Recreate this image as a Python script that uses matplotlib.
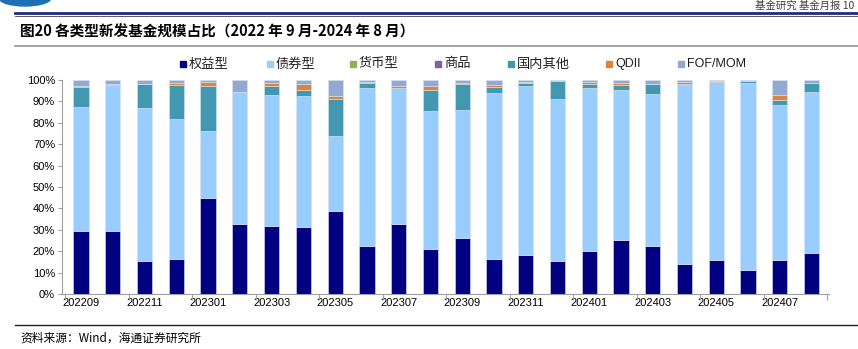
import matplotlib
matplotlib.use("Agg")
import matplotlib.pyplot as plt
from matplotlib.lines import Line2D
from matplotlib.patches import Rectangle, Ellipse
import numpy as np

plt.rcParams['font.family'] = ['Liberation Sans', 'Noto Sans CJK SC', 'DejaVu Sans']

months = ["202209","202210","202211","202212","202301","202302","202303","202304",
          "202305","202306","202307","202308","202309","202310","202311","202312",
          "202401","202402","202403","202404","202405","202406","202407","202408"]
equity   = [29.3,29.3,15.4,16.3,44.7,32.6,31.8,31.5,38.9,22.3,32.6,20.8,26.0,16.3,18.0,15.2,19.9,25.4,22.4,13.9,15.7,11.0,16.0,19.1]
bond     = [58.2,68.3,71.6,65.4,31.5,61.9,61.0,61.0,35.1,73.9,63.5,64.5,60.2,77.4,79.2,76.0,76.3,69.7,71.2,83.7,83.5,87.4,72.2,75.3]
currency = [0]*24
commodity= [0]*24
other    = [9.2,0.0,11.1,15.9,21.1,0.0,4.4,3.0,16.9,2.5,0.0,9.8,11.8,2.9,1.4,8.3,1.8,2.7,4.4,0.7,0.0,1.0,2.4,4.0]
qdii     = [0.3,0.3,0.2,0.8,1.6,0.0,1.4,2.5,1.4,0.2,1.2,1.9,0.4,1.0,0.6,0.0,0.9,0.6,0.2,0.9,0.3,0.0,2.4,0.0]
fof      = [3.0,2.1,1.7,1.6,1.1,5.5,1.4,2.0,7.7,1.1,2.7,3.0,1.6,2.4,0.8,0.5,1.1,1.6,1.8,0.8,0.5,0.6,7.0,1.6]

series = [("权益型", equity, "#000080"),
          ("债券型", bond, "#99CCFF"),
          ("货币型", currency, "#8DB255"),
          ("商品", commodity, "#7F5FA0"),
          ("国内其他", other, "#4198B0"),
          ("QDII", qdii, "#E0833A"),
          ("FOF/MOM", fof, "#93A9D2")]

W, H = 858, 349
fig = plt.figure(figsize=(W/100, H/100), dpi=100)
ax = fig.add_axes([62/W, 1-294/H, (829-62)/W, (294-80)/H])

x = np.arange(len(months))
bottom = np.zeros(len(months))
for name, vals, col in series:
    v = np.array(vals, dtype=float)
    ax.bar(x, v, 0.48, bottom=bottom, color=col, edgecolor="#D8E4F0", linewidth=0.4, label=name)
    bottom += v

ax.set_xlim(-0.6, 23.55)
ax.set_ylim(0, 100)
ax.set_yticks(np.arange(0, 101, 10))
ax.set_yticklabels([f"{t}%" for t in range(0, 101, 10)], fontsize=8)
ax.set_xticks(x[::2])
ax.set_xticklabels(months[::2], fontsize=8)
ax.tick_params(axis='x', length=0, pad=3)
ax.set_xticks(np.arange(-0.5, 24, 2), minor=True)
ax.tick_params(axis='x', which='minor', length=4, color="#A0A0A0", width=0.8)
ax.tick_params(axis='y', length=3, color="#A0A0A0", width=0.8, pad=2)
for s in ["top", "right"]:
    ax.spines[s].set_visible(False)
for s in ["left", "bottom"]:
    ax.spines[s].set_color("#A0A0A0")
    ax.spines[s].set_linewidth(0.8)

# manual legend (pixel positions of the reference)
leg_x = [180, 267, 350, 435, 508, 606, 678]
leg_y = 64
for (name, vals, col), lx in zip(series, leg_x):
    fig.add_artist(Rectangle((lx/W, 1-(leg_y+3)/H), 6/W, 6/H, color=col,
                             transform=fig.transFigure))
    is_cjk = not name.isascii()
    fig.text((lx+9)/W, 1-leg_y/H, name, fontsize=9.5 if is_cjk else 9,
             family=['Noto Sans CJK SC', 'DejaVu Sans'] if is_cjk else ['Liberation Sans'],
             va="center", ha="left", color="#202020")

# header decorations
fig.add_artist(Ellipse((25/W, 1-(-2)/H), 52/W, 16/H, color="#1E6FB5", transform=fig.transFigure))
fig.add_artist(Line2D([15/W, 1.0], [1-13/H, 1-13/H], color="#1F2A80", linewidth=2.0))
fig.add_artist(Line2D([15/W, 1.0], [1-16/H, 1-16/H], color="#404040", linewidth=0.6))
fig.add_artist(Line2D([15/W, 1.0], [1-46/H, 1-46/H], color="#909090", linewidth=1.2))
fig.add_artist(Line2D([15/W, 1.0], [1-325/H, 1-325/H], color="#202020", linewidth=1.0))
fig.text(20/W, 1-32/H, "图20 各类型新发基金规模占比（2022 年 9 月-2024 年 8 月）", fontsize=10.5,
         fontweight="bold", family=['Noto Sans CJK SC', 'DejaVu Sans'], va="center", ha="left")
fig.text(1-4/W, 1-0.5/H, "基金研究 基金月报 10", fontsize=7.5, color="#404040",
         family=['Noto Sans CJK SC', 'DejaVu Sans'], va="top", ha="right")
fig.text(20/W, 1-338/H, "资料来源：Wind，海通证券研究所", fontsize=8.5,
         family=['Noto Sans CJK SC', 'DejaVu Sans'], va="center", ha="left")

fig.savefig("out.png", dpi=100)
